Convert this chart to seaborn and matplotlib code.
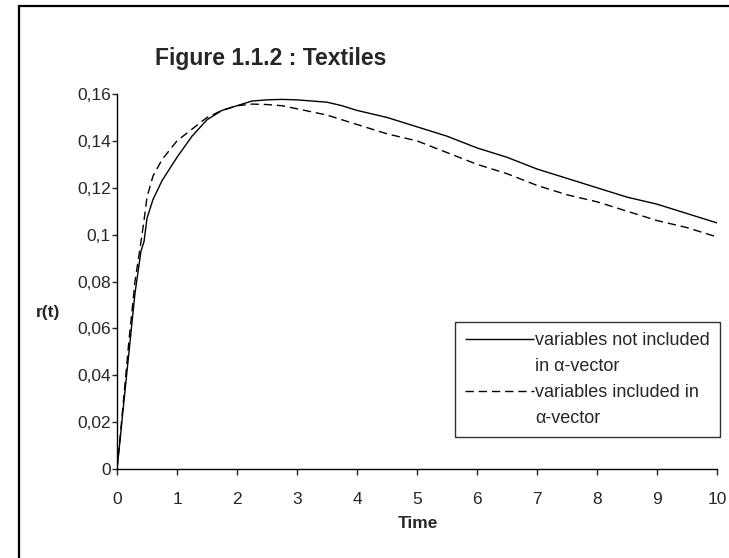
import numpy as np
import pandas as pd
import seaborn as sb
import matplotlib.pyplot as plt
from matplotlib.patches import Rectangle
from matplotlib.lines import Line2D

# values
time = [0, 0.05, 0.1, 0.2, 0.3, 0.4, 0.45, 0.5, 0.6, 0.75, 1.0, 1.25, 1.5, 1.75,
        2.0, 2.25, 2.5, 2.75, 3.0, 3.5, 3.75, 4.0, 4.5, 5.0, 5.5, 6.0, 6.5, 7.0,
        7.5, 8.0, 8.5, 9.0, 9.5, 10.0]
r_not_included = [0, 0.012, 0.025, 0.05, 0.075, 0.093, 0.097, 0.107, 0.115, 0.123,
                  0.133, 0.142, 0.149, 0.153, 0.155, 0.157, 0.1575, 0.1577, 0.1575,
                  0.1565, 0.155, 0.153, 0.150, 0.146, 0.142, 0.137, 0.133, 0.128,
                  0.124, 0.120, 0.116, 0.113, 0.109, 0.105]
r_included = [0, 0.013, 0.027, 0.055, 0.08, 0.097, 0.106, 0.116, 0.125, 0.132,
              0.140, 0.145, 0.150, 0.153, 0.155, 0.1557, 0.1555, 0.155, 0.1537,
              0.151, 0.149, 0.147, 0.143, 0.140, 0.135, 0.130, 0.126, 0.121,
              0.117, 0.114, 0.110, 0.106, 0.103, 0.099]
y_ticks = [0, 0.02, 0.04, 0.06, 0.08, 0.1, 0.12, 0.14, 0.16]
y_ticklabels = ["0", "0,02", "0,04", "0,06", "0,08", "0,1", "0,12", "0,14", "0,16"]
x_ticks = list(range(0, 11))

series_a = "variables not included"
series_b = "variables included in"
legend_lines = [series_a, "in α-vector", series_b, "α-vector"]

df = pd.DataFrame({"Time": time * 2,
                   "r": r_not_included + r_included,
                   "series": [series_a] * len(time) + [series_b] * len(time)})

sb.set_style("white")
plt.rcParams['font.family'] = ['Liberation Sans', 'DejaVu Sans']

fig = plt.figure(figsize=(7.29, 5.58), dpi=100)
ax = fig.add_axes([117 / 729, 1 - 469 / 558, 600 / 729, 375 / 558])

sb.lineplot(data=df, x="Time", y="r", hue="series", style="series",
            palette=["black", "black"], dashes=[(1, 0), (6, 3.5)],
            linewidth=1.0, ax=ax)

ax.set_xlim(0, 10)
ax.set_ylim(0, 0.16)
ax.set_xticks(x_ticks)
ax.set_yticks(y_ticks)
ax.set_yticklabels(y_ticklabels)
ax.tick_params(axis="y", direction="out", length=3.5, width=1, pad=1, labelsize=12.5, left=True)
ax.tick_params(axis="x", direction="out", length=4.5, width=1, pad=12, labelsize=12.5, bottom=True)
for s in ["top", "right"]:
    ax.spines[s].set_visible(False)
for s in ["left", "bottom"]:
    ax.spines[s].set_color("black")
    ax.spines[s].set_linewidth(1.0)

ax.set_xlabel("")
ax.set_ylabel("")
fig.text(418 / 729, 1 - 523 / 558, "Time", ha="center", va="center",
         fontsize=12.5, fontweight="bold")
fig.text(48 / 729, 1 - 312 / 558, "r(t)", ha="center", va="center",
         fontsize=12.5, fontweight="bold")
fig.text(155 / 729, 1 - 65 / 558, "Figure 1.1.2 : Textiles", ha="left", va="baseline",
         fontsize=16.5, fontweight="bold")

# legend: second line of each label gets an empty handle
handles, labels = ax.get_legend_handles_labels()
hmap = dict(zip(labels, handles))
blank = Line2D([], [], color="none")
ax.get_legend().remove()
leg = ax.legend([hmap[series_a], blank, hmap[series_b], blank], legend_lines,
                loc="upper left", bbox_to_anchor=((455 - 117) / 600, (469 - 322) / 375),
                fontsize=13, frameon=True, fancybox=False, borderpad=0.55,
                handlelength=3.8, handletextpad=0.1, labelspacing=0.5,
                borderaxespad=0)
leg.get_frame().set_edgecolor("black")
leg.get_frame().set_linewidth(1.0)

# outer frame of the chart area (cut at right and bottom)
fig.patches.append(Rectangle((19 / 729, -0.5), 2, 0.5 + 1 - 6 / 558,
                             transform=fig.transFigure, fill=False,
                             edgecolor="black", linewidth=1.6))

fig.savefig("out.png", dpi=100)
